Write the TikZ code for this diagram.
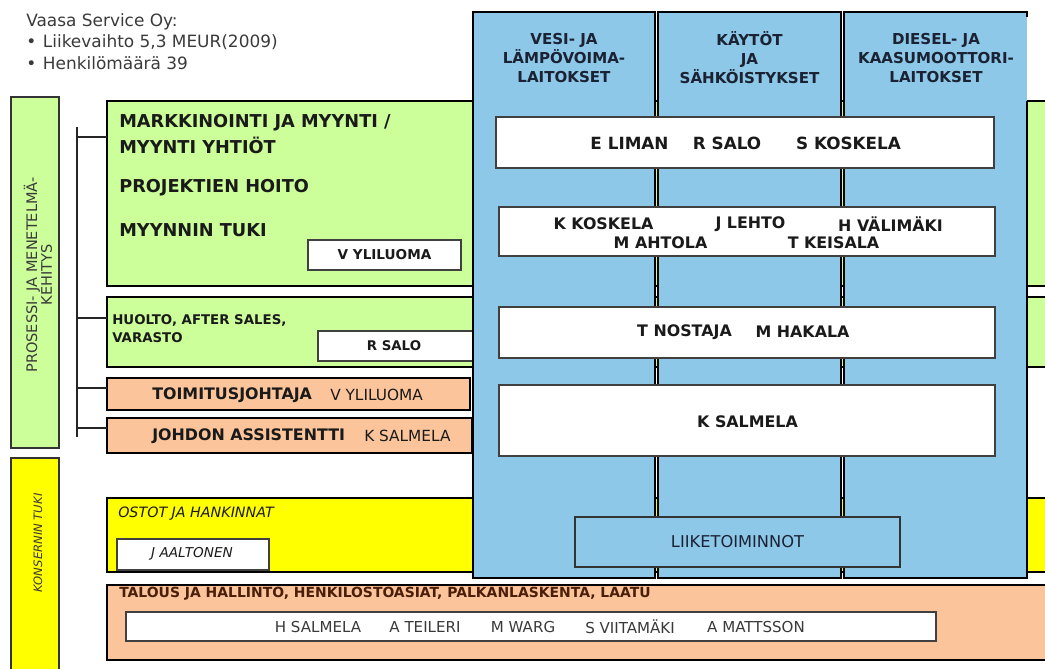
\documentclass[tikz,border=0pt]{standalone}
\usepackage{fontspec}
\setmainfont{DejaVu Sans}
\usetikzlibrary{fit}
\definecolor{cblue}{HTML}{8DC8E8}
\definecolor{cgreen}{HTML}{CCFF99}
\definecolor{corange}{HTML}{FBC49A}
\definecolor{cyellow}{HTML}{FFFF00}
\definecolor{ctext}{HTML}{1A1A1A}
\definecolor{cnavy}{HTML}{1A2233}
\definecolor{cbrown}{HTML}{4A1E08}
\definecolor{cgray}{HTML}{3A3A3A}
\begin{document}
\begin{tikzpicture}[x=0.75pt,y=-0.75pt,
  bigbox/.style={draw=black,line width=1.9pt,inner sep=0pt,outer sep=0pt},
  greenbox/.style={bigbox,fill=cgreen},
  orangebox/.style={bigbox,fill=corange},
  yellowbox/.style={bigbox,fill=cyellow},
  sidebox/.style={draw=black!80,line width=1.3pt,inner sep=0pt,outer sep=0pt},
  bluecol/.style={draw=black,line width=1.5pt,fill=cblue,inner sep=0pt,outer sep=0pt},
  colborder/.style={draw=black,line width=1.5pt},
  whitebox/.style={draw=black!75,line width=0.8pt,fill=white,inner sep=0pt,outer sep=0pt},
  liikebox/.style={draw=black!80,line width=0.8pt,fill=cblue,inner sep=0pt,outer sep=0pt},
  treeline/.style={draw=black!85,line width=1pt},
  lab/.style={font=\bfseries\fontsize{13.3pt}{15pt}\selectfont,text=ctext,inner sep=0pt,anchor=west},
  labs/.style={font=\bfseries\fontsize{10pt}{12pt}\selectfont,text=ctext,inner sep=0pt,anchor=west},
  orlab/.style={font=\bfseries\fontsize{11.9pt}{14pt}\selectfont,text=ctext,inner sep=0pt,anchor=west},
  orname/.style={font=\fontsize{11.5pt}{14pt}\selectfont,text=ctext,inner sep=0pt,anchor=west},
  hdr/.style={font=\bfseries\fontsize{11.3pt}{14.2pt}\selectfont,text=cnavy,align=center,inner sep=0pt},
  rowname/.style={font=\bfseries\fontsize{11.9pt}{14pt}\selectfont,text=ctext,inner sep=0pt},
  rowbig/.style={font=\bfseries\fontsize{12.6pt}{14pt}\selectfont,text=ctext,inner sep=0pt},
  botname/.style={font=\fontsize{11.3pt}{14pt}\selectfont,text=cgray,inner sep=0pt},
  itl/.style={font=\itshape\fontsize{10.2pt}{12pt}\selectfont,text=ctext,inner sep=0pt},
  toptext/.style={font=\fontsize{12.7pt}{15pt}\selectfont,text=cgray,inner sep=0pt,anchor=west}
]
\useasboundingbox (0,0) rectangle (1045,668);
\clip (0,0) rectangle (1045,668);

% top-left text
\node[toptext] (t1) at (26,22) {Vaasa Service Oy:};
\node[toptext] (t2) at (26,42) {•\hspace{5pt}Liikevaihto 5,3 MEUR(2009)};
\node[toptext] (t3) at (26,63) {•\hspace{5pt}Henkilömäärä 39};

% left vertical boxes
\node[sidebox,fill=cgreen,fit={(11,97)(59,448)}] (pros) {};
\node[rotate=90,font=\fontsize{10.9pt}{11pt}\selectfont,text=cgray,align=center,inner sep=0pt] (prost) at (38,275) {PROSESSI- JA MENETELMÄ-\\KEHITYS};
\node[sidebox,fill=cyellow,fit={(11,458)(59,690)}] (kons) {};
\node[rotate=90,font=\itshape\fontsize{8.7pt}{10pt}\selectfont,text=cgray,inner sep=0pt] (konst) at (38,543) {KONSERNIN TUKI};

% main boxes
\node[greenbox,fit={(107,101)(1070,286)}] (mk) {};
\node[greenbox,fit={(107,297)(1070,367)}] (huolto) {};
\node[orangebox,fit={(107,378)(470,410)}] (toim) {};
\node[orangebox,fit={(107,418)(472,453)}] (johdon) {};
\node[yellowbox,fit={(107,498)(1070,572)}] (ostot) {};
\node[orangebox,fit={(107,585)(1070,660)}] (talous) {};

% tree
\coordinate (trtop) at (77,127);
\coordinate (trbot) at (77,437);
\draw[treeline] (trtop) -- (trbot);
\coordinate (br1) at (77,137);
\coordinate (br2) at (77,318);
\coordinate (br3) at (77,388);
\coordinate (br4) at (77,428);
\draw[treeline] (br1) -- (br1 -| mk.west);
\draw[treeline] (br2) -- (br2 -| huolto.west);
\draw[treeline] (br3) -- (br3 -| toim.west);
\draw[treeline] (br4) -- (br4 -| johdon.west);

% markkinointi texts
\node[lab] (mk1) at (119,123) {MARKKINOINTI JA MYYNTI /};
\node[lab] (mk2) at (119,145) {MYYNTI YHTIÖT};
\node[lab] (mk3) at (119,188) {PROJEKTIEN HOITO};
\node[lab] (mk4) at (119,230) {MYYNNIN TUKI};
\node[whitebox,fit={(308,240)(461,270)}] (vyb) {};
\node[font=\bfseries\fontsize{10.2pt}{12pt}\selectfont,text=ctext,inner sep=0pt] (vyt) at (vyb.center) {V YLILUOMA};

% huolto
\node[labs] (h1) at (112,320) {HUOLTO, AFTER SALES,};
\node[labs] (h2) at (112,338) {VARASTO};
\node[whitebox,fit={(318,331)(474,361)}] (rsb) {};
\node[font=\bfseries\fontsize{10pt}{12pt}\selectfont,text=ctext,inner sep=0pt] (rst) at (394,346) {R SALO};

% toimitusjohtaja / johdon
\node[orlab] (tj1) at (152,395) {TOIMITUSJOHTAJA};
\node[orname] (tj2) at (330,395) {V YLILUOMA};
\node[orlab] (ja1) at (152,436) {JOHDON ASSISTENTTI};
\node[orname] (ja2) at (364,436) {K SALMELA};

% ostot
\node[itl,anchor=west,font=\itshape\fontsize{10.7pt}{12pt}\selectfont] (os1) at (118,514) {OSTOT JA HANKINNAT};
\node[whitebox,fit={(117,539)(269,570)}] (jab) {};
\node[itl] (jat) at (192,554) {J AALTONEN};

% talous
\node[font=\bfseries\fontsize{10.45pt}{12pt}\selectfont,text=cbrown,inner sep=0pt,anchor=west] (tal) at (119,594) {TALOUS JA HALLINTO, HENKILOSTOASIAT, PALKANLASKENTA, LAATU};
\node[whitebox,fit={(126,612)(936,641)}] (nmb) {};
\node[botname] (n1) at (318,627) {H SALMELA};
\node[botname] (n2) at (425,627) {A TEILERI};
\node[botname] (n3) at (523,627) {M WARG};
\node[botname] (n4) at (630,627) {S VIITAMÄKI};
\node[botname] (n5) at (756,627) {A MATTSSON};

% blue columns
\node[bluecol,fit={(473,12)(655,578)}] (c1) {};
\node[bluecol,fit={(658,12)(841,578)}] (c2) {};
\node[fill=cblue,inner sep=0pt,outer sep=0pt,fit={(844,12)(1027,578)}] (c3) {};
\draw[colborder] ([yshift=-4pt]c3.north east) -- (c3.north east) -- (c3.north west) -- (c3.south west) -- (c3.south east) -- (c3.south east |- mk.north);
\node[hdr] (h1t) at (564,58) {VESI- JA\\LÄMPÖVOIMA-\\LAITOKSET};
\node[hdr] (h2t) at (749.5,58) {KÄYTÖT\\JA\\SÄHKÖISTYKSET};
\node[hdr] (h3t) at (936,58) {DIESEL- JA\\KAASUMOOTTORI-\\LAITOKSET};

% rows across
\node[whitebox,fit={(496,117)(994,168)}] (r1) {};
\node[rowbig] (r1a) at (629.5,143) {E LIMAN};
\node[rowbig] (r1b) at (727,143) {R SALO};
\node[rowbig] (r1c) at (848.5,143) {S KOSKELA};

\node[whitebox,fit={(499,207)(995,256)}] (r2) {};
\node[rowname] (r2a) at (603.5,224) {K KOSKELA};
\node[rowname] (r2b) at (750.5,224) {J LEHTO};
\node[rowname] (r2c) at (890.5,224) {H VÄLIMÄKI};
\node[rowname] (r2d) at (660.5,243) {M AHTOLA};
\node[rowname] (r2e) at (833.5,243) {T KEISALA};

\node[whitebox,fit={(499,307)(995,358)}] (r3) {};
\node[rowname] (r3a) at (684.5,332) {T NOSTAJA};
\node[rowname] (r3b) at (802.5,332) {M HAKALA};

\node[whitebox,fit={(499,385)(995,456)}] (r4) {};
\node[rowname] (r4a) at (747.5,422) {K SALMELA};

\node[liikebox,fit={(575,517)(900,567)}] (lk) {};
\node[font=\fontsize{12.2pt}{14pt}\selectfont,text=cnavy,inner sep=0pt] (lkt) at (lk.center) {LIIKETOIMINNOT};
\end{tikzpicture}
\end{document}
